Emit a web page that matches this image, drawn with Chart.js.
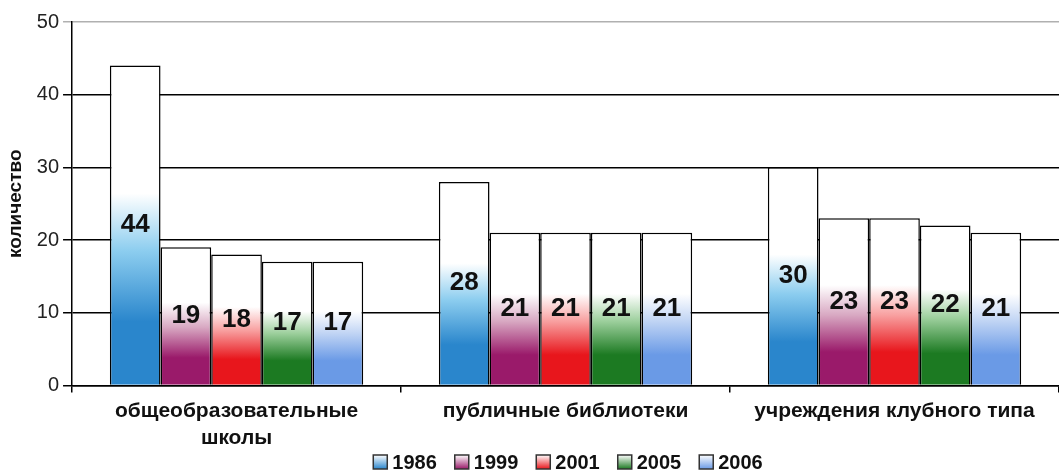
<!DOCTYPE html>
<html>
<head>
<meta charset="utf-8">
<script src="https://cdn.jsdelivr.net/npm/chart.js@4"></script>
<style>
    html, body { margin: 0; padding: 0; background: #fff; }
    #wrap { width: 1059px; height: 473px; }
</style>
</head>
<body>
<div id="wrap"><canvas id="chart"></canvas></div>
<script>
// categories and series
const categories = [['общеобразовательные', 'школы'], 'публичные библиотеки', 'учреждения клубного типа'];
const years = ['1986', '1999', '2001', '2005', '2006'];
const values1986 = [44, 28, 30];
const values1999 = [19, 21, 23];
const values2001 = [18, 21, 23];
const values2005 = [17, 21, 22];
const values2006 = [17, 21, 21];
const yTicks = [0, 10, 20, 30, 40, 50];

const seriesColors = ['#2a86cc', '#9a1a6a', '#e8161c', '#1c7a22', '#6a9ae6'];
const seriesMid = ['#8ccdef', '#d8a8c2', '#f8a0a0', '#9ccf9c', '#c0d4f4'];

// gradient from colour at the base to white near the middle of the bar
function barGradient(i) {
    return function(ctx) {
        const chart = ctx.chart;
        if (!chart.chartArea || ctx.raw === undefined) {
            return seriesColors[i];
        }
        const y = chart.scales.y;
        const top = y.getPixelForValue(ctx.raw);
        const base = y.getPixelForValue(0);
        const g = chart.ctx.createLinearGradient(0, base, 0, top);
        g.addColorStop(0, seriesColors[i]);
        g.addColorStop(0.2, seriesColors[i]);
        g.addColorStop(0.42, seriesMid[i]);
        g.addColorStop(0.6, '#ffffff');
        g.addColorStop(1, '#ffffff');
        return g;
    };
}

const allValues = [values1986, values1999, values2001, values2005, values2006];

// numbers in the middle of each bar
const valueLabels = {
    id: 'valueLabels',
    afterDatasetsDraw(chart) {
        const c = chart.ctx;
        c.save();
        c.font = 'bold 26px Arial, "Liberation Sans"';
        c.fillStyle = '#111';
        c.textAlign = 'center';
        c.textBaseline = 'middle';
        chart.data.datasets.forEach(function(ds, i) {
            chart.getDatasetMeta(i).data.forEach(function(bar, j) {
                c.fillText(String(ds.data[j]), bar.x, (bar.y + bar.base) / 2);
            });
        });
        c.restore();
    }
};

// legend drawn in the bottom padding, centred under the plot
const bottomLegend = {
    id: 'bottomLegend',
    afterDraw(chart) {
        const c = chart.ctx;
        const box = 14, gap = 5, space = 18;
        c.save();
        c.font = 'bold 20px Arial, "Liberation Sans"';
        c.textBaseline = 'middle';
        let total = 0;
        years.forEach(function(yr, i) {
            total += box + gap + c.measureText(yr).width + (i < years.length - 1 ? space : 0);
        });
        let x = 568 - total / 2;
        const y = chart.height - 11;
        years.forEach(function(yr, i) {
            const g = c.createLinearGradient(0, y + box / 2, 0, y - box / 2);
            g.addColorStop(0, seriesColors[i]);
            g.addColorStop(1, '#ffffff');
            c.fillStyle = g;
            c.fillRect(x, y - box / 2, box, box);
            c.strokeStyle = '#333';
            c.lineWidth = 1.5;
            c.strokeRect(x, y - box / 2, box, box);
            x += box + gap;
            c.fillStyle = '#111';
            c.fillText(yr, x, y + 1);
            x += c.measureText(yr).width + space;
        });
        c.restore();
    }
};

new Chart(document.getElementById('chart'), {
    type: 'bar',
    data: {
        labels: categories,
        datasets: years.map(function(yr, i) {
            return {
                label: yr,
                data: allValues[i],
                backgroundColor: barGradient(i),
                borderColor: '#000',
                borderWidth: 1.5,
                borderSkipped: 'bottom',
                categoryPercentage: 0.77,
                barPercentage: 1.0
            };
        })
    },
    options: {
        responsive: true,
        maintainAspectRatio: false,
        animation: false,
        layout: { padding: { top: 22, right: 0, left: 4, bottom: 16 } },
        scales: {
            x: {
                offset: true,
                grid: {
                    drawOnChartArea: false,
                    drawTicks: true,
                    tickLength: 7,
                    color: '#000',
                    lineWidth: 1.5
                },
                border: { display: true, color: '#000', width: 1.5 },
                ticks: {
                    color: '#111',
                    font: { family: 'Arial, "Liberation Sans"', size: 21, weight: 'bold', lineHeight: 1.3 },
                    maxRotation: 0,
                    autoSkip: false,
                    padding: 5
                }
            },
            y: {
                min: 0,
                max: 50,
                afterBuildTicks: function(axis) {
                    axis.ticks = yTicks.map(function(v) { return { value: v }; });
                },
                grid: {
                    color: function(ctx) { return ctx.tick && ctx.tick.value === 50 ? '#b0b0b0' : '#000'; },
                    lineWidth: 1.5,
                    tickLength: 9
                },
                border: { display: true, color: '#000', width: 1.5 },
                ticks: {
                    color: '#222',
                    font: { family: 'Arial, "Liberation Sans"', size: 20 },
                    padding: 4
                },
                title: {
                    display: true,
                    text: 'количество',
                    color: '#111',
                    font: { family: 'Arial, "Liberation Sans"', size: 19, weight: 'bold' },
                    padding: { top: 0, bottom: 6 }
                }
            }
        },
        plugins: {
            legend: { display: false },
            tooltip: { enabled: false }
        }
    },
    plugins: [valueLabels, bottomLegend]
});
</script>
</body>
</html>
